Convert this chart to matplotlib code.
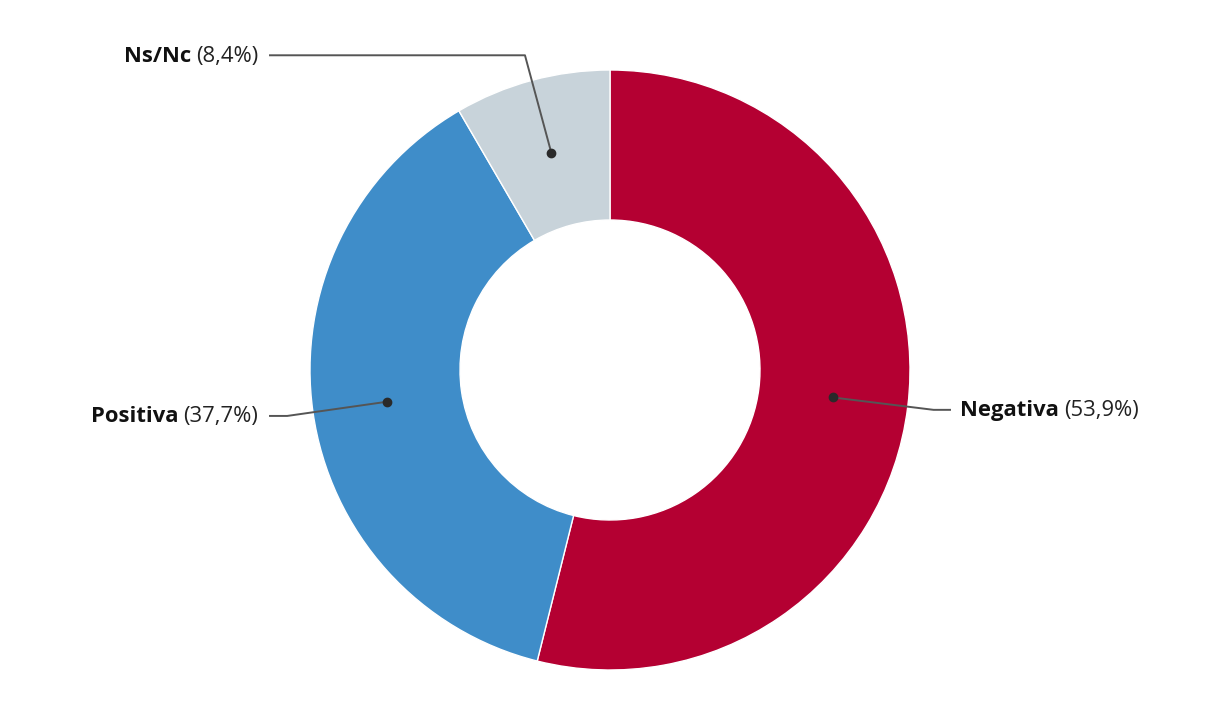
import matplotlib
matplotlib.use('Agg')
import matplotlib.pyplot as plt
import numpy as np

categories = ['Negativa', 'Positiva', 'Ns/Nc']
values = [53.9, 37.7, 8.4]
pct_labels = ['(53,9%)', '(37,7%)', '(8,4%)']
colors = ['#B40032', '#3F8DC9', '#C8D3DA']

W, H = 1220, 720
fig = plt.figure(figsize=(W / 100, H / 100), dpi=100)
ax = fig.add_axes([0, 0, 1, 1])

cx, cy = 610, 350
R = 300
ring = 150
wedges, _ = ax.pie(values, colors=colors, startangle=90, counterclock=False,
                   radius=R, center=(cx, cy),
                   wedgeprops=dict(width=ring, edgecolor='white', linewidth=1))
ax.set_xlim(0, W)
ax.set_ylim(0, H)
ax.set_aspect('equal')
ax.axis('off')

FONT = 'Open Sans'
FS = 15.8
line_col = '#555555'
right_x = 960
left_x = 258

fig.canvas.draw()
renderer = fig.canvas.get_renderer()
inv = ax.transData.inverted()

def width_of(t):
    bb = t.get_window_extent(renderer)
    p0 = inv.transform((bb.x0, bb.y0))
    p1 = inv.transform((bb.x1, bb.y1))
    return p1[0] - p0[0]

for w, name, pct in zip(wedges, categories, pct_labels):
    ang = np.deg2rad((w.theta1 + w.theta2) / 2)
    c, s = np.cos(ang), np.sin(ang)
    dot = (cx + (R - ring / 2) * c, cy + (R - ring / 2) * s)
    elbow = (cx + 326 * c, cy + 326 * s)
    if c >= 0:
        end_x = right_x - 10
    else:
        end_x = left_x + 12
    ax.plot([dot[0], elbow[0], end_x], [dot[1], elbow[1], elbow[1]],
            color=line_col, lw=1.4, solid_joinstyle='round', zorder=5)
    ax.plot([dot[0]], [dot[1]], 'o', color='#2a2a2a', markersize=6, zorder=6)
    ty = elbow[1] - 1
    if c >= 0:
        t1 = ax.text(right_x, ty, name, fontsize=FS, fontweight='bold', family=FONT,
                     ha='left', va='center', color='#111111')
        w1 = width_of(t1)
        ax.text(right_x + w1 + 5, ty, pct, fontsize=FS, fontweight='normal', family=FONT,
                ha='left', va='center', color='#222222')
    else:
        t2 = ax.text(left_x, ty, pct, fontsize=FS, fontweight='normal', family=FONT,
                     ha='right', va='center', color='#222222')
        w2 = width_of(t2)
        ax.text(left_x - w2 - 5, ty, name, fontsize=FS, fontweight='bold', family=FONT,
                ha='right', va='center', color='#111111')

fig.savefig('out.png', dpi=100, facecolor='white')
